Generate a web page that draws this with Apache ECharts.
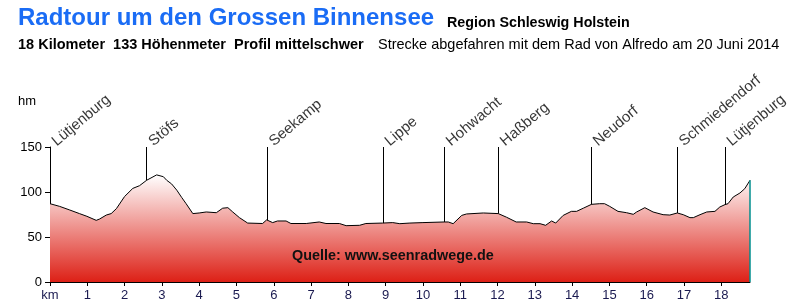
<!DOCTYPE html>
<html>
<head>
<meta charset="utf-8">
<script src="https://cdn.jsdelivr.net/npm/echarts@6/dist/echarts.min.js"></script>
<style>html,body{margin:0;padding:0;background:#fff}#c{width:800px;height:307px}</style>
</head>
<body>
<div id="c"></div>
<script>
// distance along route (km)
const km = [0,0.26,0.53,0.79,0.99,1.24,1.33,1.51,1.64,1.78,2.0,2.22,2.4,2.59,2.86,3.04,3.13,3.26,3.4,3.53,3.65,3.83,4.0,4.19,4.46,4.63,4.77,4.9,5.08,5.3,5.7,5.81,5.97,6.1,6.33,6.46,6.87,7.22,7.4,7.76,7.94,8.3,8.47,8.92,9.19,9.38,9.65,10.0,10.57,10.68,10.81,11.04,11.17,11.62,12.02,12.24,12.5,12.78,12.96,13.14,13.29,13.45,13.56,13.76,13.98,14.12,14.3,14.52,14.74,14.87,15.01,15.23,15.46,15.64,15.73,15.95,16.17,16.44,16.62,16.82,16.98,17.16,17.25,17.43,17.61,17.83,17.96,18.1,18.18,18.32,18.5,18.63,18.77];
// elevation (m)
const elevation = [87,84,80,76,73,68.5,70,74.4,76,81.5,95,104,107,113,119,117,113,109,102,94,87,76,76.7,77.8,77,82,82.6,77.8,71.5,65.5,65,69,66,67.8,67.8,65,65,66.7,65,65,62.6,63,65,65.5,66,64.8,65.5,66,66.7,66.7,64.8,74,75.6,76.7,76,72,66.7,66.7,64.8,64.8,63,67.8,65.5,74,78.5,78.5,82,86.3,87,87,84,78.5,77,75.2,77.8,82.6,77.8,74.8,74.4,76.7,74.8,71.5,71.5,74.8,77.8,78.5,83.3,86,87,94.4,98.9,103.7,113];
// places along the route
const placeNames = ['Lütjenburg','Stöfs','Seekamp','Lippe','Hohwacht','Haßberg','Neudorf','Schmiedendorf','Lütjenburg'];
const placeKm = [0,2.59,5.82,8.93,10.57,12.02,14.51,16.82,18.1];
// axis ticks
const xTicks = [0,1,2,3,4,5,6,7,8,9,10,11,12,13,14,15,16,17,18];
const xTickLabels = ['km','1','2','3','4','5','6','7','8','9','10','11','12','13','14','15','16','17','18'];
const yTicks = [0,50,100,150];

const FONT = 'Arial, "Liberation Sans", sans-serif';
function interp(x){
  for(let i=1;i<km.length;i++){
    if(x<=km[i]){const t=(x-km[i-1])/(km[i]-km[i-1]);return elevation[i-1]+t*(elevation[i]-elevation[i-1]);}
  }
  return elevation[elevation.length-1];
}
const profile = km.map((k,i)=>[k,elevation[i]]);
const endKm = km[km.length-1];
const topY = yTicks[yTicks.length-1];

const markLines = placeKm.filter(k=>k>0).map(k=>[{coord:[k,topY]},{coord:[k,interp(k)]}]);
markLines.push([{coord:[endKm,0],lineStyle:{color:'#008f8f',width:1.5}},{coord:[endKm,elevation[elevation.length-1]]}]);

const chart = echarts.init(document.getElementById('c'),null,{renderer:'canvas'});
chart.setOption({
  animation:false,
  backgroundColor:'#fff',
  grid:{left:50,right:50,top:147,bottom:25},
  xAxis:{type:'value',min:0,max:endKm,
    axisLine:{show:true,lineStyle:{color:'#000',width:1}},
    axisTick:{show:true,length:4,lineStyle:{color:'#000'},customValues:xTicks},
    axisLabel:{show:true,customValues:xTicks,margin:7,color:'#1a1a50',fontSize:13,fontFamily:FONT,
      formatter:v=>xTickLabels[xTicks.indexOf(v)]},
    splitLine:{show:false}},
  yAxis:{type:'value',min:0,max:topY,interval:50,
    axisLine:{show:true,lineStyle:{color:'#000',width:1}},
    axisTick:{show:true,length:5,lineStyle:{color:'#000'}},
    axisLabel:{margin:8,color:'#000',fontSize:13,fontFamily:FONT},
    splitLine:{show:false}},
  graphic:[
    {type:'text',left:18,top:6,style:{text:'Radtour um den Grossen Binnensee',font:'bold 24px '+FONT,fill:'#1a6cf5'}},
    {type:'text',left:447,top:16,style:{text:'Region Schleswig Holstein',font:'bold 14.3px '+FONT,fill:'#000'}},
    {type:'text',left:18,top:37,style:{text:'18 Kilometer  133 Höhenmeter  Profil mittelschwer',font:'bold 14.5px '+FONT,fill:'#000'}},
    {type:'text',left:378,top:37,style:{text:'Strecke abgefahren mit dem Rad von Alfredo am 20 Juni 2014',font:'14.5px '+FONT,fill:'#000'}},
    {type:'text',left:18,top:95,style:{text:'hm',font:'13px '+FONT,fill:'#000'}},
    {type:'text',left:292,top:249,z:10,style:{text:'Quelle: www.seenradwege.de',font:'bold 14.4px '+FONT,fill:'#111'}}
  ],
  series:[
    {type:'line',data:profile,showSymbol:false,symbol:'none',
      lineStyle:{color:'#000',width:1},
      areaStyle:{opacity:1,color:new echarts.graphic.LinearGradient(0,0,0,1,[{offset:0,color:'#ffffff'},{offset:1,color:'#dd2016'}])},
      markLine:{silent:true,symbol:['none','none'],label:{show:false},animation:false,
        lineStyle:{color:'#000',width:1,type:'solid'},data:markLines}},
    {type:'scatter',symbolSize:0,silent:true,clip:false,
      data:placeNames.map((n,i)=>({name:n,value:[placeKm[i],topY]})),
      label:{show:true,position:[9,2],align:'left',verticalAlign:'bottom',rotate:40,
        formatter:p=>p.name,fontSize:15,fontFamily:FONT,color:'#000'}}
  ]
});
</script>
</body>
</html>
